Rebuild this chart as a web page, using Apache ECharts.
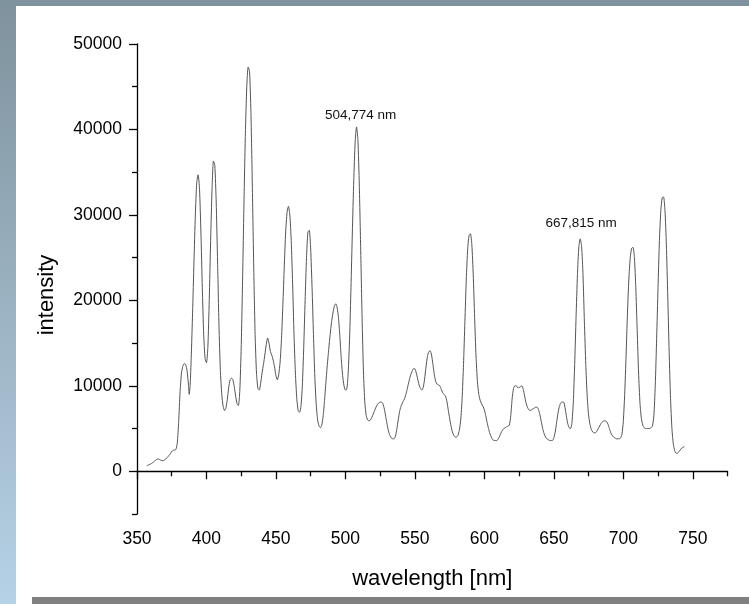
<!DOCTYPE html>
<html><head><meta charset="utf-8">
<script src="https://cdn.jsdelivr.net/npm/echarts@6/dist/echarts.min.js"></script>
<style>html,body{margin:0;padding:0;background:#fff}#c{width:749px;height:604px}</style>
</head><body><div id="c"></div>
<script>
const wavelengths = [
357,358,359,360,361,362,363,364,365,366,367,368,369,370,371,372,373,374,375,376,377,378,379,380,
381,382,383,384,385,386,387,387.6,388.3,389,390,391,392,393,394,395,396,397,398,399,400,
401,402,403,404,405,406,407,408,409,410,411,412,413,414,415,416,417,418,419,420,
421,422,423,424,425,426,427,428,429,430,431,432,433,434,435,436,437,438,439,440,
441,442,443,444,445,446,447,448,449,450,451,452,453,454,455,456,457,458,459,460,
461,462,463,464,465,466,467,468,469,470,471,472,473,474,475,476,477,478,479,480,
481,482,483,484,485,486,487,488,489,490,491,492,493,494,495,496,497,498,499,500,
501,502,503,504,505,506,507,508,509,510,511,512,513,514,515,516,517,518,519,520,
521,522,523,524,525,526,527,528,529,530,531,532,533,534,535,536,537,538,539,540,
541,542,543,544,545,546,547,548,549,550,551,552,553,554,555,556,557,558,559,560,
561,562,563,564,565,566,567,568,569,570,571,572,573,574,575,576,577,578,579,580,
581,582,583,584,585,586,587,588,589,590,591,592,593,594,595,596,597,598,599,600,
601,602,603,604,605,606,607,608,609,610,611,612,613,614,615,616,617,618,619,620,
621,622,623,624,625,626,627,628,629,630,631,632,633,634,635,636,637,638,639,640,
641,642,643,644,645,646,647,648,649,650,651,652,653,654,655,656,657,658,659,660,
661,662,663,664,665,666,667,668,669,670,671,672,673,674,675,676,677,678,679,680,
681,682,683,684,685,686,687,688,689,690,691,692,693,694,695,696,697,698,699,700,
701,702,703,704,705,706,707,708,709,710,711,712,713,714,715,716,717,718,719,720,
721,722,723,724,725,726,727,728,729,730,731,732,733,734,735,736,737,738,739,740,
741,742,743,744
];
const intensities = [
650,720,800,860,980,1100,1250,1380,1450,1400,1300,1250,1250,1350,1480,1640,1850,2050,2300,2450,2480,2550,3300,5800,
9300,11500,12300,12600,12500,11800,10200,9000,10200,13200,18500,24500,30000,33800,34700,33000,28000,21500,16000,13200,12700,
14500,20000,27000,33000,36300,35800,31500,24500,17000,11800,9000,7600,7100,7400,8400,9800,10700,10900,10700,9900,
8800,7900,7700,9500,14500,22500,31500,39500,45000,47300,46800,42000,33500,24000,16000,11500,9700,9500,10300,11500,
12500,13600,14800,15600,15000,14000,13600,13000,12200,11200,10700,11300,12800,15500,19500,24000,28000,30300,31000,30000,
27000,22000,16000,11500,8500,7100,6900,7600,10000,14500,20000,25000,28000,28200,26000,21500,16000,11000,7800,6000,
5300,5100,5400,6500,8300,10500,12500,14300,16000,17400,18500,19300,19600,19200,18000,15800,13200,11200,10000,9500,
9600,11500,15500,21500,28000,34000,38500,40300,38800,33500,26000,18000,11500,8000,6500,6000,5900,6000,6300,6700,
7100,7500,7800,8000,8100,8100,7900,7300,6400,5500,4700,4200,3900,3800,3800,4100,4900,6000,7000,7600,
8000,8300,8700,9300,10000,10700,11300,11700,12000,12000,11500,10800,10100,9700,9500,9800,10800,12200,13400,14000,
14100,13600,12500,11300,10500,10200,10100,10000,9600,9200,9000,8800,8200,7200,6200,5300,4600,4200,4000,4000,
4200,4800,6000,8500,12500,17500,22500,26000,27600,27800,26500,23000,18000,13500,10500,9000,8300,7900,7600,7200,
6500,5700,5000,4400,4000,3700,3600,3600,3600,3800,4100,4500,4800,5000,5100,5200,5300,5400,6500,8500,
9700,10000,10000,9800,9800,9900,10000,9600,8800,8000,7500,7200,7100,7200,7300,7400,7500,7500,7200,6600,
5800,5000,4400,4000,3800,3700,3600,3600,3600,3900,4600,5700,6800,7600,8000,8100,8100,7500,6500,5600,
5100,5000,5600,8000,12500,18000,23000,26300,27200,26300,23000,17500,12500,8800,6600,5500,4900,4600,4500,4500,
4700,5000,5300,5600,5800,5900,5900,5800,5500,5000,4500,4200,4000,3900,3800,3800,3800,3900,4300,5800,
9000,13500,18500,22500,25000,26100,26200,25000,21500,16500,11500,8000,6200,5400,5100,5000,5000,5000,5000,5100,
5300,6500,10000,15500,21500,27000,30500,32000,32100,30500,26500,20500,14000,8500,5000,3200,2400,2100,2100,2300,
2500,2700,2800,2900
];
const xMajorTicks = [350,400,450,500,550,600,650,700,750];
const xMinorTicks = [375,425,475,525,575,625,675,725,775];
const yMajorTicks = [0,10000,20000,30000,40000,50000];
const yMinorTicks = [-5000,5000,15000,25000,35000,45000];
const annotationTexts = ['504,774 nm','667,815 nm'];
const annotationX = [511, 669.7];
const annotationY = [41700, 29070];

const FONT = 'Liberation Sans, Arial, sans-serif';
const chart = echarts.init(document.getElementById('c'));
const axisLineStyle = {color:'#000', width:1.3};
const xBase = {type:'value', min:350, max:775, gridIndex:0, position:'bottom', splitLine:{show:false}};
const yBase = {type:'value', min:-5000, max:50000, gridIndex:0, position:'left', splitLine:{show:false}};
chart.setOption({
  animation:false,
  backgroundColor:'transparent',
  graphic:[
    {type:'rect', shape:{x:0,y:0,width:749,height:604}, style:{fill:'#ffffff'}, z:-10, silent:true},
    {type:'rect', shape:{x:0,y:0,width:16,height:604}, style:{fill:new echarts.graphic.LinearGradient(0,0,0,1,[{offset:0,color:'#7f929d'},{offset:1,color:'#b6d2e6'}])}, z:-9, silent:true},
    {type:'rect', shape:{x:0,y:0,width:749,height:6}, style:{fill:'#7f939e'}, z:-9, silent:true},
    {type:'rect', shape:{x:32,y:597,width:717,height:7}, style:{fill:'#808080'}, z:-9, silent:true},
    {type:'text', x:47, y:295, rotation:Math.PI/2, style:{text:'intensity', align:'center', verticalAlign:'middle', font:'22px '+FONT, fill:'#000'}}
  ],
  grid:{left:137, right:21.5, top:44, bottom:90, containLabel:false},
  xAxis:[
    Object.assign({}, xBase, {
      name:'wavelength [nm]', nameLocation:'middle', nameGap:54,
      nameTextStyle:{fontFamily:FONT, fontSize:22, color:'#000'},
      axisLine:{show:true, lineStyle:axisLineStyle},
      axisTick:{show:true, inside:false, length:8, customValues:xMajorTicks, lineStyle:{color:'#000', width:1.3}},
      axisLabel:{show:true, customValues:xMajorTicks, margin:16, fontFamily:FONT, fontSize:17.5, color:'#000', formatter:v=>String(v)}
    }),
    Object.assign({}, xBase, {
      axisLine:{show:false},
      axisTick:{show:true, inside:false, length:5, customValues:xMinorTicks, lineStyle:{color:'#000', width:1.3}},
      axisLabel:{show:false}
    })
  ],
  yAxis:[
    Object.assign({}, yBase, {
      axisLine:{show:true, lineStyle:axisLineStyle},
      axisTick:{show:true, inside:false, length:8, customValues:yMajorTicks, lineStyle:{color:'#000', width:1.3}},
      axisLabel:{show:true, customValues:yMajorTicks, margin:15, fontFamily:FONT, fontSize:17.5, color:'#000', formatter:v=>String(v)}
    }),
    Object.assign({}, yBase, {
      axisLine:{show:false},
      axisTick:{show:true, inside:false, length:5, customValues:yMinorTicks, lineStyle:{color:'#000', width:1.3}},
      axisLabel:{show:false}
    })
  ],
  series:[{
    type:'line', xAxisIndex:0, yAxisIndex:0,
    data: wavelengths.map((w,i)=>[w, intensities[i]]),
    showSymbol:false, symbol:'none', smooth:0.2,
    lineStyle:{color:'#555', width:1},
    markPoint:{
      symbol:'circle', symbolSize:0, silent:true,
      label:{show:true, position:'inside', color:'#111', fontFamily:FONT, fontSize:13.5},
      data: annotationTexts.map((t,i)=>({coord:[annotationX[i], annotationY[i]], value:t, label:{formatter:t}}))
    }
  }]
});
</script>
</body></html>
